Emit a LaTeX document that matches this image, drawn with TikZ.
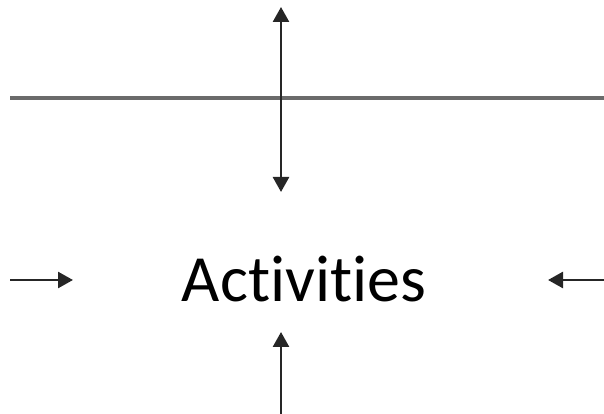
\documentclass[tikz,border=0pt]{standalone}
\usepackage{fontspec}
\setmainfont[RawFeature=-liga]{Carlito}
\usetikzlibrary{arrows.meta}
\begin{document}
\begin{tikzpicture}[x=1pt,y=1pt,
  conn/.style={line width=2.6pt,black!85,-{Triangle[length=15pt,width=16pt]}},
  barline/.style={line width=4.2pt,black!58}]
\useasboundingbox (0,0) rectangle (604,414);
\node[font=\fontsize{66}{66}\selectfont,inner sep=0pt,anchor=base] (act) at (304,112) {Activities};
\coordinate (hl) at (10,316);
\coordinate (hr) at (604,316);
\draw[barline] (hl) -- (hr);
\coordinate (vtop) at (281,407);
\coordinate (vbot) at (281,222);
\coordinate (vmid) at (281,316);
\draw[conn] (vmid) -- (vtop);
\draw[conn] (vmid) -- (vbot);
\coordinate (ls) at (10,134);
\coordinate (le) at (73,134);
\draw[conn] (ls) -- (le);
\coordinate (rs) at (604,134);
\coordinate (re) at (548,134);
\draw[conn] (rs) -- (re);
\coordinate (bs) at (281,0);
\coordinate (be) at (281,82);
\draw[conn] (bs) -- (be);
\end{tikzpicture}
\end{document}
